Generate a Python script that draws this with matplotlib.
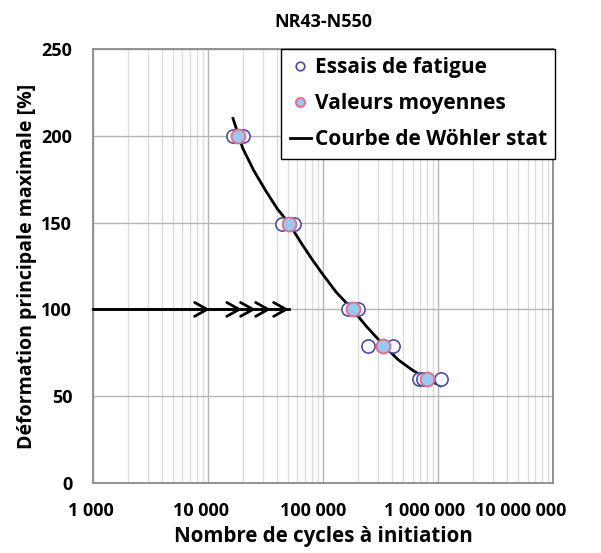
import numpy as np
import matplotlib
matplotlib.use('Agg')
import matplotlib.pyplot as plt
import matplotlib.transforms as mtransforms
from matplotlib.ticker import FixedLocator, NullFormatter

plt.rcParams['font.family'] = ['Open Sans', 'DejaVu Sans']
plt.rcParams['font.weight'] = 'bold'

# essais individuels (cycles, deformation %)
essais_N = [16500, 20150, 43950, 55900, 165000, 201600, 246000, 406000, 684000, 741000, 1062000]
essais_def = [200, 200, 149, 149, 100, 100, 79, 79, 60, 60, 60]

# valeurs moyennes
moy_N = [18250, 50600, 182500, 332000, 802000]
moy_def = [200, 149, 100, 79, 60]

# courbe de Wohler
courbe_N = [16500, 20000, 25000, 32000, 40000, 50000, 65000, 80000, 100000, 130000,
            180000, 240000, 330000, 450000, 600000, 800000, 1050000]
courbe_def = [210, 193, 180, 168, 158, 150, 138, 129, 120, 110,
              100, 90, 80, 71, 65, 60, 56]

# essais non rompus a 100 %
fleche_N = [1000, 10400, 19800, 26100, 35300, 50600]
fleche_def = 100

xticks = [1e3, 1e4, 1e5, 1e6, 1e7]
xlabels = ['1 000', '10 000', '100 000', '1 000 000', '10 000 000']
yticks = [0, 50, 100, 150, 200, 250]

fig = plt.figure(figsize=(6.01, 5.53), dpi=100)
ax = fig.add_axes([0.1547, 0.1266, 0.7655, 0.7848])

ax.set_xscale('log')
ax.set_xlim(1e3, 1e7)
ax.set_ylim(0, 250)

ax.xaxis.set_minor_locator(FixedLocator([m * 10 ** e for e in range(3, 7) for m in range(2, 10)]))
ax.xaxis.set_minor_formatter(NullFormatter())
ax.set_xticks(xticks)
ax.set_xticklabels(xlabels, fontweight='bold')
ax.set_yticks(yticks)
ax.set_yticklabels([str(v) for v in yticks], fontweight='bold')

ax.grid(which='major', color='#b5b5b5', linewidth=1.0)
ax.grid(which='minor', axis='x', color='#dcdcdc', linewidth=1.0)
ax.set_axisbelow(True)

for s in ax.spines.values():
    s.set_color('#8a8a8a')
    s.set_linewidth(1.3)

ax.tick_params(which='both', length=0, labelsize=13)
ax.tick_params(axis='y', pad=15)
ax.tick_params(axis='x', pad=14)

# decalage des etiquettes comme dans Excel
decal = [-2, -7, -10, -13, -32]
for lab, dx in zip(ax.get_xticklabels(), decal):
    lab.set_transform(lab.get_transform() + mtransforms.ScaledTranslation(dx / 100, 0, fig.dpi_scale_trans))

# fleches
ax.plot([fleche_N[0], fleche_N[-1]], [fleche_def, fleche_def], color='black', lw=2)
for i in range(1, len(fleche_N)):
    ax.annotate('', xy=(fleche_N[i], fleche_def), xytext=(fleche_N[i - 1], fleche_def),
                arrowprops=dict(arrowstyle='->,head_length=0.9,head_width=0.5', color='black', lw=2,
                                shrinkA=0, shrinkB=0))

ax.plot(courbe_N, courbe_def, color='black', lw=2, label='Courbe de Wöhler stat', zorder=3)
ax.plot(essais_N, essais_def, 'o', ms=9.5, mfc='white', mec='#4b4ba8', mew=1.2,
        label='Essais de fatigue', zorder=4)
ax.plot(moy_N, moy_def, 'o', ms=10, mfc='#9cc8ef', mec='#e0708e', mew=1.4,
        label='Valeurs moyennes', zorder=5)

h, l = ax.get_legend_handles_labels()
leg = ax.legend([h[1], h[2], h[0]], [l[1], l[2], l[0]], loc='upper right',
                bbox_to_anchor=(1.005, 1.0), fontsize=15, frameon=True, fancybox=False,
                edgecolor='black', framealpha=1, borderpad=0.4, labelspacing=0.72,
                handlelength=1.0, handletextpad=0.2, borderaxespad=0, markerscale=0.65)
leg.get_frame().set_linewidth(1.0)

ax.set_title('NR43-N550', fontsize=13, fontweight='bold', pad=16)
ax.set_xlabel('Nombre de cycles à initiation', fontsize=14.8, fontweight='bold', labelpad=4)
ax.set_ylabel('Déformation principale maximale [%]', fontsize=14, fontweight='bold', labelpad=3)

fig.savefig('out.png', dpi=100)
